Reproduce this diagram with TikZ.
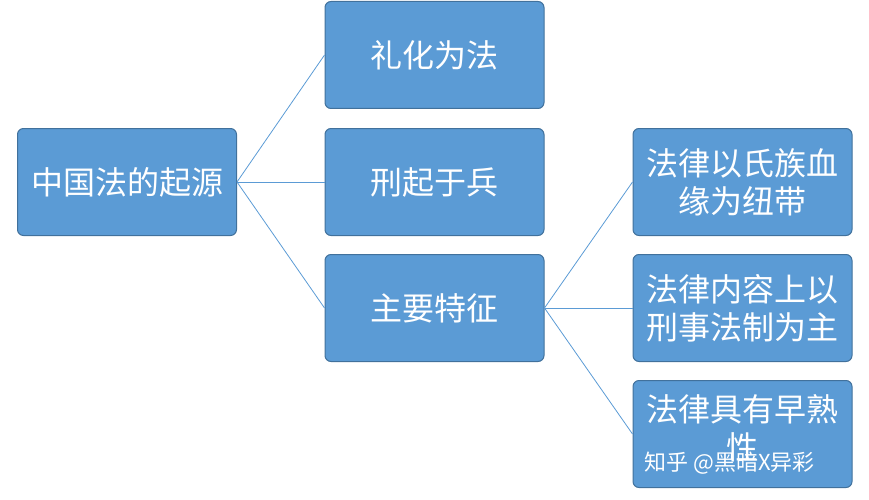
\documentclass[tikz,border=0pt]{standalone}
\usepackage{fontspec}
\newfontfamily\cjk{Noto Sans CJK SC}
\definecolor{boxfill}{HTML}{5B9BD5}
\definecolor{boxline}{HTML}{41719C}
\begin{document}
\begin{tikzpicture}[x=1pt,y=-1pt,
  box/.style={draw=boxline,line width=1pt,fill=boxfill,rounded corners=6pt,minimum width=219pt,minimum height=107pt,text=white,font=\cjk\fontsize{32}{38}\selectfont,align=center,inner sep=0pt},
  link/.style={draw=boxfill,line width=0.8pt}]
\useasboundingbox (0,0) rectangle (869,500);
\node[box] (root) at (127,182) {中国法的起源};
\node[box] (a) at (434.5,55) {礼化为法};
\node[box] (b) at (434.5,182) {刑起于兵};
\node[box] (c) at (434.5,308) {主要特征};
\node[box] (d) at (742.5,182) {法律以氏族血\\缘为纽带};
\node[box] (e) at (742.5,308) {法律内容上以\\刑事法制为主};
\node[box] (f) at (742.5,434) {};
\node[text=white,font=\cjk\fontsize{32}{38}\selectfont,align=center] (ft) at (742.5,428) {法律具有早熟\\性};
\node[text=white,font=\cjk\fontsize{22}{26}\selectfont,anchor=west] (wm) at (641,463) {知乎 @黑暗X异彩};
\foreach \t in {a,b,c} \draw[link] (root.east) -- (\t.west);
\foreach \t in {d,e,f} \draw[link] (c.east) -- (\t.west);
\end{tikzpicture}
\end{document}
